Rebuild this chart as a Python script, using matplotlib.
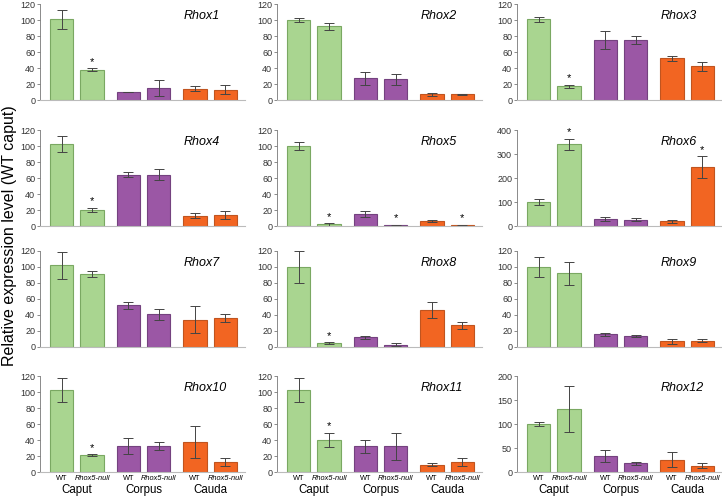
import matplotlib
matplotlib.use("Agg")
import matplotlib.pyplot as plt

plt.rcParams['font.family'] = ['Liberation Sans', 'DejaVu Sans']

genes = ["Rhox1", "Rhox2", "Rhox3", "Rhox4", "Rhox5", "Rhox6",
         "Rhox7", "Rhox8", "Rhox9", "Rhox10", "Rhox11", "Rhox12"]
# order: caput WT, caput null, corpus WT, corpus null, cauda WT, cauda null
means = [
    [101, 38, 10, 15, 14, 13],
    [100, 92, 27, 26, 7, 7],
    [101, 17, 75, 75, 52, 42],
    [102, 20, 64, 64, 13, 14],
    [100, 2, 15, 1, 6, 1],
    [100, 340, 28, 27, 20, 245],
    [102, 91, 52, 41, 34, 36],
    [100, 5, 12, 3, 46, 27],
    [100, 92, 16, 14, 7, 8],
    [102, 21, 33, 33, 38, 12],
    [102, 40, 32, 32, 9, 12],
    [100, 131, 33, 18, 26, 13],
]
errs = [
    [12, 2, 0.5, 10, 3, 6],
    [3, 4, 8, 7, 1.5, 1],
    [3, 2, 11, 5, 3, 6],
    [10, 3, 3, 7, 3, 5],
    [5, 1.5, 4, 0.5, 1, 0.5],
    [13, 23, 8, 5, 7, 45],
    [17, 4, 4, 7, 17, 5],
    [20, 1, 2, 1.5, 10, 4],
    [12, 14, 2, 1, 3, 1.5],
    [15, 1, 10, 5, 20, 5],
    [15, 9, 8, 17, 2, 5],
    [4, 48, 12, 3, 16, 5],
]
stars = [
    [0, 1, 0, 0, 0, 0],
    [0, 0, 0, 0, 0, 0],
    [0, 1, 0, 0, 0, 0],
    [0, 1, 0, 0, 0, 0],
    [0, 1, 0, 1, 0, 1],
    [0, 1, 0, 0, 0, 1],
    [0, 0, 0, 0, 0, 0],
    [0, 1, 0, 0, 0, 0],
    [0, 0, 0, 0, 0, 0],
    [0, 1, 0, 0, 0, 0],
    [0, 1, 0, 0, 0, 0],
    [0, 0, 0, 0, 0, 0],
]
ymax = [120, 120, 120, 120, 120, 400, 120, 120, 120, 120, 120, 200]
ystep = [20, 20, 20, 20, 20, 100, 20, 20, 20, 20, 20, 50]

bar_labels = ["WT", "Rhox5-null"] * 3
groups = ["Caput", "Corpus", "Cauda"]
xpos = [0, 1, 2.2, 3.2, 4.4, 5.4]
fills = ["#a9d590", "#a9d590", "#9b57a5", "#9b57a5", "#f26522", "#f26522"]
edges = ["#7aa862", "#7aa862", "#74427f", "#74427f", "#c0541f", "#c0541f"]

W, H = 722, 496
fig = plt.figure(figsize=(W / 100, H / 100), dpi=100)

col_left = [40, 277, 517]
row_bottom = [100, 226, 347, 472]
aw, ah = 205, 96

for i, g in enumerate(genes):
    r, c = divmod(i, 3)
    ax = fig.add_axes([col_left[c] / W, (H - row_bottom[r]) / H, aw / W, ah / H])
    ax.bar(xpos, means[i], width=0.77, color=fills, edgecolor=edges, linewidth=0.8,
           yerr=errs[i], error_kw=dict(ecolor="#444444", elinewidth=0.7, capsize=3.5, capthick=0.7))
    for j in range(6):
        if stars[i][j]:
            ax.annotate("*", (xpos[j], means[i][j] + errs[i][j]), xytext=(0, 1),
                        textcoords="offset points", ha="center", va="bottom", fontsize=8)
    ax.set_xlim(-0.72, 6.05)
    ax.set_ylim(0, ymax[i])
    ax.set_yticks(range(0, ymax[i] + 1, ystep[i]))
    ax.tick_params(axis="y", labelsize=6.5, length=2.5, width=0.6, color="#777777",
                   labelcolor="#333333", pad=1)
    ax.tick_params(axis="x", length=0)
    for s in ["top", "right"]:
        ax.spines[s].set_visible(False)
    ax.spines["left"].set_color("#777777")
    ax.spines["left"].set_linewidth(0.6)
    ax.spines["bottom"].set_color("#bbbbbb")
    ax.spines["bottom"].set_linewidth(0.8)
    ax.text(0.70, 0.875, g, transform=ax.transAxes, ha="left", va="center",
            fontsize=9, style="italic")
    if r == 3:
        ax.set_xticks(xpos)
        ax.set_xticklabels(bar_labels, fontsize=5.3)
        for k, lab in enumerate(ax.get_xticklabels()):
            if k % 2 == 1:
                lab.set_style("italic")
        ax.tick_params(axis="x", pad=2)
        for k, gname in enumerate(groups):
            ax.text((xpos[2 * k] + xpos[2 * k + 1]) / 2, -0.19, gname,
                    transform=ax.get_xaxis_transform(), ha="center", va="center", fontsize=8.3)
    else:
        ax.set_xticks([])

fig.text(10 / W, 1 - 236 / H, "Relative expression level (WT caput)", rotation=90,
         ha="center", va="center", fontsize=11.5)

fig.savefig("out.png", dpi=100)
